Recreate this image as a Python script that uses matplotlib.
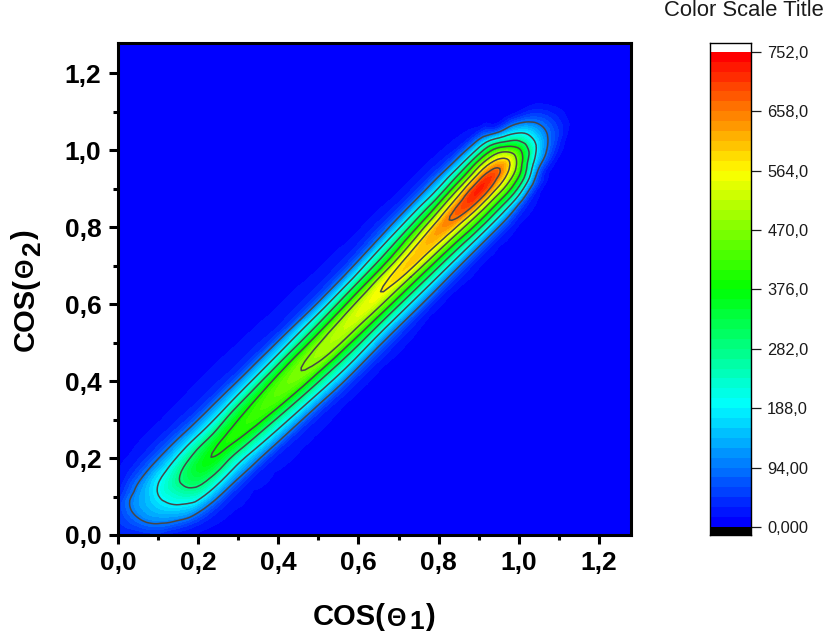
import numpy as np
import matplotlib
matplotlib.use("Agg")
import matplotlib.pyplot as plt
import matplotlib.tri as mtri
from matplotlib.colors import LinearSegmentedColormap, BoundaryNorm

plt.rcParams["font.family"] = ["Liberation Sans", "DejaVu Sans"]

### --- Data --- ###
# along the diagonal: (cos1 + cos2) / 2, across it: cos2 - cos1
along = [-0.10, 0.00, 0.03, 0.06, 0.09, 0.12, 0.16, 0.20, 0.25, 0.30, 0.40, 0.50, 0.60,
         0.70, 0.80, 0.85, 0.90, 0.94, 0.97, 1.00, 1.03, 1.06, 1.10, 1.15, 1.40]
across = [-1.40, -0.80, -0.40, -0.24, -0.18, -0.15, -0.12, -0.09, -0.06, -0.03, 0.00,
          0.03, 0.06, 0.09, 0.12, 0.16, 0.40, 0.80, 1.40]
counts = [
    [0, 0, 0, 0, 0, 0, 0, 0, 0, 0, 0, 0, 0, 0, 0, 0, 0, 0, 0],
    [0, 0, 0, 0, 0, 1, 3, 6, 12, 20, 30, 30, 20, 10, 4, 1, 0, 0, 0],
    [0, 0, 0, 0, 2, 5, 10, 20, 35, 50, 60, 60, 50, 30, 15, 5, 0, 0, 0],
    [0, 0, 0, 1, 8, 15, 30, 65, 95, 115, 120, 115, 95, 55, 25, 10, 0, 0, 0],
    [0, 0, 0, 4, 18, 35, 75, 120, 150, 165, 165, 150, 125, 85, 45, 18, 0, 0, 0],
    [0, 0, 0, 8, 30, 70, 130, 175, 210, 225, 225, 195, 155, 100, 55, 22, 0, 0, 0],
    [0, 0, 0, 12, 40, 95, 170, 250, 295, 310, 290, 240, 170, 110, 60, 26, 0, 0, 0],
    [0, 0, 0, 14, 40, 100, 180, 265, 335, 365, 330, 265, 185, 115, 60, 26, 0, 0, 0],
    [0, 0, 0, 15, 38, 105, 175, 255, 345, 390, 355, 270, 185, 115, 55, 26, 0, 0, 0],
    [0, 0, 0, 15, 42, 110, 190, 275, 370, 405, 375, 300, 195, 120, 55, 27, 0, 0, 0],
    [0, 0, 0, 14, 50, 125, 215, 310, 415, 450, 420, 330, 215, 130, 55, 27, 0, 0, 0],
    [0, 0, 0, 12, 55, 140, 235, 335, 460, 495, 460, 350, 235, 140, 55, 26, 0, 0, 0],
    [0, 0, 0, 11, 50, 120, 220, 340, 465, 540, 505, 385, 265, 150, 65, 27, 0, 0, 0],
    [0, 0, 0, 10, 40, 115, 215, 340, 470, 590, 560, 420, 300, 190, 90, 32, 0, 0, 0],
    [0, 0, 0, 9, 35, 100, 210, 345, 480, 610, 630, 510, 360, 230, 115, 34, 0, 0, 0],
    [0, 0, 0, 8, 32, 95, 210, 360, 490, 650, 680, 560, 400, 240, 125, 37, 0, 0, 0],
    [0, 0, 0, 7, 28, 85, 200, 350, 490, 660, 725, 610, 430, 270, 130, 34, 0, 0, 0],
    [0, 0, 0, 5, 20, 55, 175, 330, 470, 610, 690, 610, 450, 280, 130, 28, 0, 0, 0],
    [0, 0, 0, 3, 10, 30, 110, 260, 400, 520, 590, 530, 400, 250, 110, 20, 0, 0, 0],
    [0, 0, 0, 1, 3, 12, 40, 120, 230, 345, 395, 345, 235, 115, 30, 6, 0, 0, 0],
    [0, 0, 0, 0, 1, 4, 18, 65, 125, 180, 200, 185, 130, 60, 12, 2, 0, 0, 0],
    [0, 0, 0, 0, 0, 1, 6, 25, 60, 85, 95, 85, 55, 20, 4, 0, 0, 0, 0],
    [0, 0, 0, 0, 0, 0, 1, 4, 12, 18, 20, 15, 8, 2, 0, 0, 0, 0, 0],
    [0, 0, 0, 0, 0, 0, 0, 0, 1, 2, 2, 1, 0, 0, 0, 0, 0, 0, 0],
    [0, 0, 0, 0, 0, 0, 0, 0, 0, 0, 0, 0, 0, 0, 0, 0, 0, 0, 0],
]

major_ticks = [0.0, 0.2, 0.4, 0.6, 0.8, 1.0, 1.2]
minor_ticks = [0.1, 0.3, 0.5, 0.7, 0.9, 1.1]
major_labels = ["0,0", "0,2", "0,4", "0,6", "0,8", "1,0", "1,2"]
scale_ticks = [0, 94, 188, 282, 376, 470, 564, 658, 752]
scale_labels = ["0,000", "94,00", "188,0", "282,0", "376,0", "470,0", "564,0", "658,0", "752,0"]

### --- Grid --- ###
A, C = np.meshgrid(along, across, indexing="ij")
x = (A - C / 2).ravel()
y = (A + C / 2).ravel()
z = np.array(counts, dtype=float).ravel()

# smooth the triangulated table so the contours don't kink
tri = mtri.Triangulation(x, y)
interp = mtri.CubicTriInterpolator(tri, z, kind="geom")
tri_fine, z_fine = mtri.UniformTriRefiner(tri).refine_field(z, triinterpolator=interp, subdiv=2)
z_fine = np.clip(z_fine, 0, None)

rainbow = LinearSegmentedColormap.from_list(
    "rainbow_origin", ["#0000ff", "#00ffff", "#00ff00", "#ffff00", "#ff0000"], N=256
)
levels = np.linspace(0, 752, 49)
norm = BoundaryNorm(levels, 256)

W, H = 825, 634
fig = plt.figure(figsize=(W / 100, H / 100), dpi=100)

### --- Main plot --- ###
ax = fig.add_axes([118 / W, 1 - 535 / H, (631 - 118) / W, (535 - 42.5) / H])
ax.set_facecolor("#0000f5")
ax.tricontourf(tri_fine, z_fine, levels=levels, cmap=rainbow, norm=norm, extend="max")
ax.tricontour(tri_fine, z_fine, levels=scale_ticks[1:], colors="#474747", linewidths=1.1)
ax.set_xlim(0, 1.28)
ax.set_ylim(0, 1.28)
ax.set_xticks(major_ticks, major_labels)
ax.set_yticks(major_ticks, major_labels)
ax.set_xticks(minor_ticks, minor=True)
ax.set_yticks(minor_ticks, minor=True)
ax.tick_params(which="major", length=6.5, width=2.2, labelsize=19)
ax.tick_params(axis="x", which="major", pad=5)
ax.tick_params(axis="y", which="major", pad=5.5)
ax.tick_params(which="minor", length=3.5, width=2.2)
for label in ax.get_xticklabels() + ax.get_yticklabels():
    label.set_fontweight("bold")
for spine in ax.spines.values():
    spine.set_linewidth(2.2)

# axis titles in pieces: the original has a small symbol and a full-size dropped index
xlabel_parts = [("COS(", 313, 625, 21), ("\u0398", 387, 626, 18),
                ("1", 409, 629, 19), (")", 425, 625, 21)]
ylabel_parts = [("COS(", 33.5, 351, 21), ("\u0398", 32.5, 277, 18),
                ("2", 40, 256, 19), (")", 33.5, 240, 21)]
for txt, px, py, size in xlabel_parts:
    fig.text(px / W, 1 - py / H, txt, fontsize=size, fontweight="bold", ha="left", va="baseline")
for txt, px, py, size in ylabel_parts:
    fig.text(px / W, 1 - py / H, txt, fontsize=size, fontweight="bold", ha="left", va="baseline",
             rotation=90, rotation_mode="anchor")

### --- Colour scale --- ###
cax = fig.add_axes([710 / W, 1 - 535 / H, 40.5 / W, (535 - 43) / H])
cax.pcolormesh([0, 1], levels, (levels[:-1] + levels[1:]).reshape(-1, 1) / 2, cmap=rainbow, norm=norm)
cax.set_xlim(0, 1)
cax.set_ylim(-12.7, 766)
cax.axhspan(-12.7, 0, color="black", lw=0)
cax.set_xticks([])
cax.yaxis.tick_right()
cax.set_yticks(scale_ticks, scale_labels)
cax.tick_params(length=7, width=0.9, labelsize=11.8, pad=5, colors="#1a1a1a")
for spine in cax.spines.values():
    spine.set_linewidth(1.0)

fig.text(743.5 / W, 1 - 10 / H, "Color Scale Title", fontsize=15.8, ha="center", va="center", color="#1a1a1a")

fig.savefig("out.png", dpi=100)
